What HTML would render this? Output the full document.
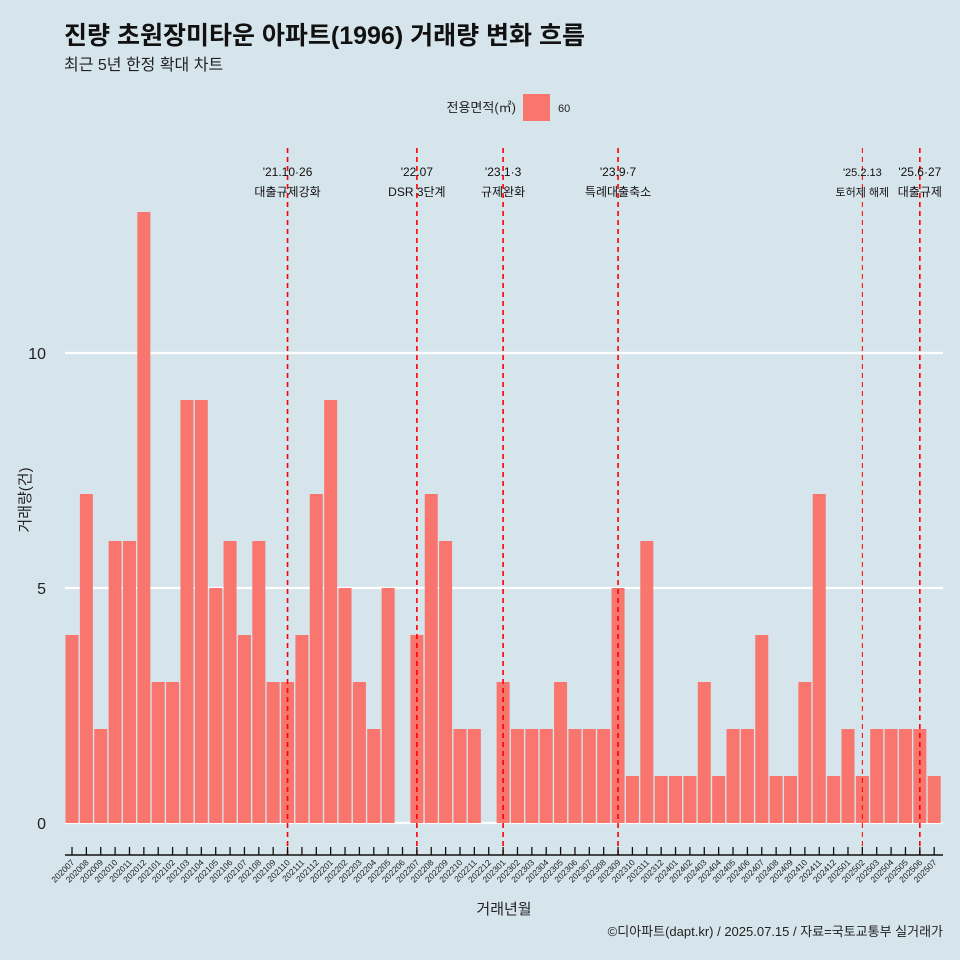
<!DOCTYPE html>
<html><head><meta charset="utf-8">
<style>
body{margin:0;background:#d6e4eb;}
svg{display:block;font-family:"Liberation Sans","Noto Sans CJK KR",sans-serif;}
</style></head>
<body>
<svg id="chart" width="960" height="960" viewBox="0 0 960 960" xmlns="http://www.w3.org/2000/svg">
<rect width="960" height="960" fill="#d6e4eb"/>
<text x="64" y="44" font-size="25" font-weight="bold" fill="#111">진량 초원장미타운 아파트(1996) 거래량 변화 흐름</text>
<text x="64" y="70" font-size="16" fill="#222">최근 5년 한정 확대 차트</text>
<g>
<text x="516" y="112" font-size="13" text-anchor="end" fill="#222">전용면적(㎡)</text>
<rect x="523" y="94" width="27" height="27" fill="#F8766D"/>
<text x="558" y="112" font-size="11" fill="#222">60</text>
</g>
<g id="grid"></g>
<g id="bars"></g>
<g id="events"></g>
<g id="xaxis"></g>
<text x="30" y="500" font-size="15" fill="#222" text-anchor="middle" transform="rotate(-90 30 500)">거래량(건)</text>
<text x="504" y="914" font-size="15" fill="#222" text-anchor="middle">거래년월</text>
<text x="943" y="936" font-size="13" fill="#222" text-anchor="end">©디아파트(dapt.kr) / 2025.07.15 / 자료=국토교통부 실거래가</text>
</svg>
<script>
const categories=["202007","202008","202009","202010","202011","202012","202101","202102","202103","202104","202105","202106","202107","202108","202109","202110","202111","202112","202201","202202","202203","202204","202205","202206","202207","202208","202209","202210","202211","202212","202301","202302","202303","202304","202305","202306","202307","202308","202309","202310","202311","202312","202401","202402","202403","202404","202405","202406","202407","202408","202409","202410","202411","202412","202501","202502","202503","202504","202505","202506","202507"];
const values=[4,7,2,6,6,13,3,3,9,9,5,6,4,6,3,3,4,7,9,5,3,2,5,0,4,7,6,2,2,0,3,2,2,2,3,2,2,2,5,1,6,1,1,1,3,1,2,2,4,1,1,3,7,1,2,1,2,2,2,2,1];
const yTicks=[0,5,10];
const eventMonths=["202110","202207","202301","202309","202502","202506"];
const eventLine1=["'21.10·26","'22.07","'23.1·3","'23.9·7","'25.2.13","'25.6·27"];
const eventLine2=["대출규제강화","DSR 3단계","규제완화","특례대출축소","토허제 해제","대출규제"];

const NS="http://www.w3.org/2000/svg";
const x0=72, step=14.37, bw=13;
const xPos=i=>x0+i*step;
const yPos=v=>823-v*47;
function mk(tag,attrs,parent){const e=document.createElementNS(NS,tag);for(const k in attrs)e.setAttribute(k,attrs[k]);parent.appendChild(e);return e;}
const grid=document.getElementById('grid'),bars=document.getElementById('bars'),ev=document.getElementById('events'),xa=document.getElementById('xaxis');
yTicks.forEach(t=>{
  const l=mk('line',{x1:65,x2:943,y1:yPos(t),y2:yPos(t),stroke:'#fff','stroke-width':2.2},grid);
  
  
  const tx=mk('text',{x:46,y:yPos(t)+6,'font-size':16,'text-anchor':'end',fill:'#222'},grid);
  tx.textContent=t;
  
  
});
values.forEach((v,i)=>{
  if(v<=0)return;
  const r=mk('rect',{x:xPos(i)-bw/2,y:yPos(v),width:bw,height:yPos(0)-yPos(v),fill:'#F8766D'},bars);
  
  
});
eventMonths.forEach((m,k)=>{
  const i=categories.indexOf(m);const x=xPos(i);
  const thin=(m==="202502");
  const l=mk('line',{x1:x,x2:x,y1:148,y2:855,stroke:'#ff0000','stroke-width':thin?1:1.6,'stroke-dasharray':'5,4'},ev);
  
  
  const fs=thin?11:12;
  const a=mk('text',{x:x,y:176,'font-size':fs,'text-anchor':'middle',fill:'#111'},ev);
  a.textContent=eventLine1[k];
  
  
  const b=mk('text',{x:x,y:196,'font-size':fs,'text-anchor':'middle',fill:'#111'},ev);
  b.textContent=eventLine2[k];
  
  
});
const ax=mk('line',{x1:65,x2:943,y1:855,y2:855,stroke:'#111','stroke-width':1.5},xa);


categories.forEach((c,i)=>{
  const x=xPos(i);
  const t=mk('line',{x1:x,x2:x,y1:847,y2:855,stroke:'#111','stroke-width':1.3},xa);
  
  
  const tx=mk('text',{x:x+3,y:863,'font-size':8.5,'text-anchor':'end',fill:'#222',transform:`rotate(-45 ${x+3} 863)`},xa);
  tx.textContent=c;
  
  
});
</script>
</body></html>
